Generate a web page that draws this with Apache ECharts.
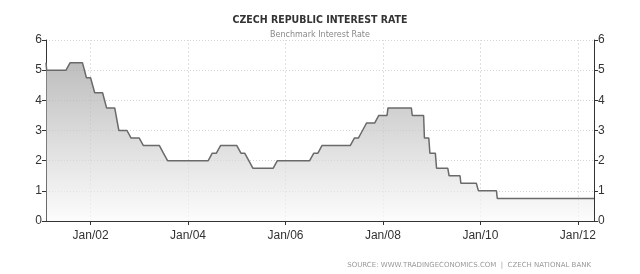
<!DOCTYPE html>
<html>
<head>
<meta charset="utf-8">
<script src="https://cdn.jsdelivr.net/npm/echarts@6/dist/echarts.min.js"></script>
<style>
html,body{margin:0;padding:0;background:#fff;}
#chart{width:640px;height:274px;}
</style>
</head>
<body>
<div id="chart"></div>
<script>
// Change points of the benchmark rate (dates and values)
var rateDates = [
  '2001-02-01','2001-02-06','2001-07-01','2001-08-01','2001-11-01','2001-12-01',
  '2002-01-01','2002-02-01','2002-04-01','2002-05-01','2002-07-01','2002-08-01',
  '2002-10-01','2002-11-01','2003-01-01','2003-02-01','2003-06-01','2003-07-01','2003-08-01',
  '2004-06-01','2004-07-01','2004-08-01','2004-09-01','2005-01-01','2005-02-01',
  '2005-03-01','2005-04-01','2005-05-01','2005-10-01','2005-11-01',
  '2006-07-01','2006-08-01','2006-09-01','2006-10-01',
  '2007-05-01','2007-06-01','2007-07-01','2007-08-01','2007-09-01','2007-11-01','2007-12-01',
  '2008-02-01','2008-02-08','2008-08-01','2008-08-08','2008-11-01','2008-11-07',
  '2008-12-10','2008-12-18','2009-01-28','2009-02-06','2009-05-01','2009-05-11',
  '2009-08-01','2009-08-07','2009-12-01','2009-12-17','2010-05-01','2010-05-07','2012-05-01'
];
var rateValues = [
  5.25,5.0,5.0,5.25,5.25,4.75,
  4.75,4.25,4.25,3.75,3.75,3.0,
  3.0,2.75,2.75,2.5,2.5,2.25,2.0,
  2.0,2.25,2.25,2.5,2.5,2.25,
  2.25,2.0,1.75,1.75,2.0,
  2.0,2.25,2.25,2.5,
  2.5,2.75,2.75,3.0,3.25,3.25,3.5,
  3.5,3.75,3.75,3.5,3.5,2.75,
  2.75,2.25,2.25,1.75,1.75,1.5,
  1.5,1.25,1.25,1.0,1.0,0.75,0.75
];
var tickDates = ['2002-01-01','2004-01-01','2006-01-01','2008-01-01','2010-01-01','2012-01-01'];
var tickLabels = ['Jan/02','Jan/04','Jan/06','Jan/08','Jan/10','Jan/12'];
var xStart = '2001-02-01', xEnd = '2012-05-01';
var titleText = 'CZECH REPUBLIC INTEREST RATE';
var subtitleText = 'Benchmark Interest Rate';
var sourceText = 'SOURCE: WWW.TRADINGECONOMICS.COM  |  CZECH NATIONAL BANK';

function ts(s){ var p=s.split('-'); return Date.UTC(+p[0], +p[1]-1, +p[2]); }
var seriesData = rateDates.map(function(d,i){ return [ts(d), rateValues[i]]; });
var tickTs = tickDates.map(ts);
var labelMap = {};
tickTs.forEach(function(t,i){ labelMap[t] = tickLabels[i]; });

var chart = echarts.init(document.getElementById('chart'), null, {renderer:'canvas'});
var font = 'Liberation Sans, Arial, sans-serif';
var yCommon = {
  type:'value', min:0, max:6, interval:1,
  axisLine:{show:true, lineStyle:{color:'#333', width:1}},
  axisTick:{show:true, length:4, lineStyle:{color:'#333'}},
  axisLabel:{color:'#333', fontSize:12, fontFamily:font, margin:4}
};
chart.setOption({
  animation:false,
  backgroundColor:'#fff',
  title:[
    {text:titleText, left:'center', top:10,
     textStyle:{fontSize:10.5, fontWeight:'bold', color:'#333', fontFamily:'DejaVu Sans Condensed, DejaVu Sans, sans-serif'}},
    {text:subtitleText, left:'center', top:26,
     textStyle:{fontSize:8, fontWeight:'normal', color:'#888', fontFamily:'DejaVu Sans, sans-serif'}},
    {text:sourceText, right:44, top:257,
     textStyle:{fontSize:7, fontWeight:'normal', color:'#999', fontFamily:'DejaVu Sans, sans-serif'}}
  ],
  grid:{left:46, right:46, top:40, bottom:53, containLabel:false},
  xAxis:{
    type:'value', min:ts(xStart), max:ts(xEnd),
    axisLine:{show:true, lineStyle:{color:'#333', width:1}},
    axisTick:{show:true, length:4, customValues:tickTs, lineStyle:{color:'#333'}},
    axisLabel:{show:true, customValues:tickTs, color:'#333', fontSize:12, fontFamily:font, margin:9,
      formatter:function(v){ return labelMap[v] || ''; }},
    splitLine:{show:false}
  },
  yAxis:[
    Object.assign({}, yCommon, {position:'left',
      splitLine:{show:true, lineStyle:{color:'#d4d4d4', type:[1,2], width:1}}}),
    Object.assign({}, yCommon, {position:'right', splitLine:{show:false}})
  ],
  series:[{
    type:'line', data:seriesData, showSymbol:false, symbol:'none',
    lineStyle:{color:'#6a6a6a', width:1.5},
    areaStyle:{color:new echarts.graphic.LinearGradient(0,0,0,1,[
      {offset:0, color:'#a2a2a2'},
      {offset:0.5, color:'#cfcfcf'},
      {offset:1, color:'#fbfbfb'}
    ])},
    markLine:{
      silent:true, symbol:'none', label:{show:false},
      lineStyle:{color:'#e0e0e0', type:[2,2], width:1},
      data: tickTs.map(function(t){ return {xAxis:t}; }),
      z:1
    },
    z:2
  }]
});
</script>
</body>
</html>
